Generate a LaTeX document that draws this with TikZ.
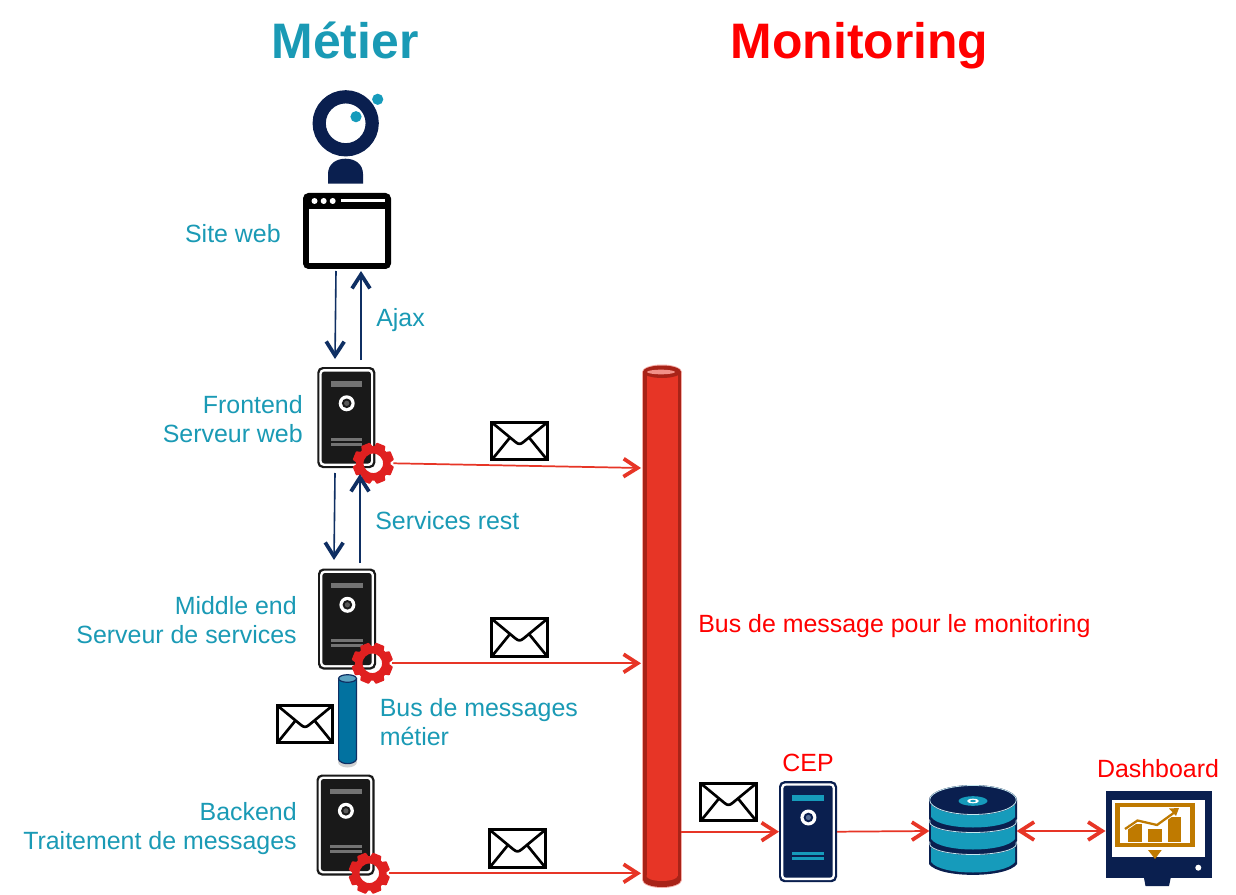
\documentclass[tikz,border=0pt]{standalone}
\usepackage{fontspec}
\setmainfont{Liberation Sans}
\usetikzlibrary{arrows.meta,calc}
\definecolor{teal}{HTML}{169BBB}
\definecolor{navy}{HTML}{0A1F4F}
\definecolor{lab}{HTML}{1A9AB5}
\definecolor{busred}{HTML}{E73526}
\definecolor{busdark}{HTML}{A82318}
\definecolor{gearred}{HTML}{E02020}
\definecolor{gold}{HTML}{BF7A00}
\definecolor{darkblue}{HTML}{0F2F63}
\definecolor{pipe}{HTML}{0272A0}
\tikzset{
  x=0.75pt,y=-0.75pt,
  anchorbox/.style={inner sep=0pt,outer sep=0pt,minimum width=#1},
  title/.style={font=\fontsize{37.4}{44}\selectfont\bfseries},
  lbl/.style={font=\fontsize{18.7}{21.75}\selectfont,text=lab,inner sep=0pt},
  redlbl/.style={font=\fontsize{18.7}{21.75}\selectfont,text=red,inner sep=0pt},
  bigbarb/.tip={Straight Barb[length=10.5pt,width=13.5pt,line width=2.8pt]},
  flowred/.style={draw=busred,line width=1.3pt,-bigbarb},
  flowboth/.style={draw=busred,line width=1.3pt,bigbarb-bigbarb},
  flownavy/.style={draw=darkblue,line width=1.2pt,-bigbarb},
}
\newcommand{\srvicon}[6]{% name,x,y,face,bar,disc
  \node[anchorbox=43.5pt,minimum height=75.75pt] (#1) at (#2,#3) {};
  \begin{scope}[shift={(#2,#3)}]
    \fill[#4,rounded corners=4pt] (-29,-50.5) rectangle (29,50.5);
    \fill[white,rounded corners=3.2pt] (-26.9,-48.4) rectangle (26.9,48.4);
    \fill[#4,rounded corners=2pt] (-24.6,-46) rectangle (24.6,46);
    \fill[#5] (-15.8,-36.5) rectangle (16,-30.8);
    \fill[#5] (-15.8,20) rectangle (16,23.3);
    \fill[#5] (-15.8,25) rectangle (16,28.3);
    \fill[white] (0.4,-14.2) circle[radius=8];
    \fill[#4] (0.4,-14.2) circle[radius=4.8];
    \fill[#6] (0.4,-14.2) circle[radius=2.6];
  \end{scope}
}
\newcommand{\gearicon}[3]{% name,x,y
  \node[circle,inner sep=0pt,outer sep=0pt,minimum size=30pt] (#1) at (#2,#3) {};
  \begin{scope}[shift={(#2,#3)}]
    \draw[gearred,line width=5.6pt] (0,0) circle[radius=13.5];
    \foreach \a in {0,45,...,315}
      \fill[gearred,rotate=\a+22.5,rounded corners=0.5pt] (-6.2,-14) -- (-4.6,-20.5) -- (4.6,-20.5) -- (6.2,-14) -- cycle;
  \end{scope}
}
\newcommand{\mailicon}[3]{% name,x,y centre
  \node[anchorbox=41.5pt,minimum height=28pt,draw=black,line width=2.4pt,fill=white] (#1) at (#2,#3) {};
  \begin{scope}[shift={(#2,#3)}]
    \draw[black,line width=2pt,line join=round] (-27,-18) -- (-4,1) .. controls (-1,3.5) and (1,3.5) .. (4,1) -- (27,-18);
    \draw[black,line width=2pt] (-27,18) -- (-9.5,-3.5);
    \draw[black,line width=2pt] (27,18) -- (9.5,-3.5);
  \end{scope}
}
\begin{document}
\begin{tikzpicture}
\useasboundingbox (0,0) rectangle (1236,895);
\fill[white] (0,0) rectangle (1236,895);

% titles
\node[title,text=lab,inner sep=0pt,anchor=base] (tMetier) at (345,59) {Métier};
\node[title,text=red,inner sep=0pt,anchor=base] (tMonitoring) at (859.5,59) {Monitoring};

% person
\node[circle,inner sep=0pt,minimum size=49.5pt] (person) at (345.7,123.3) {};
\draw[navy,line width=9.9pt] (345.7,123.3) circle[radius=26.5];
\fill[teal] (356,116.7) circle[radius=5.6];
\fill[teal] (377.7,99.3) circle[radius=5.6];
\fill[navy] (328,183.7) -- (328,174) .. controls (328,164) and (336,158.7) .. (345.5,158.7) .. controls (355,158.7) and (363,164) .. (363,174) -- (363,183.7) -- cycle;

% browser
\node[anchorbox=66pt,minimum height=57pt] (browser) at (347,231) {};
\fill[black,rounded corners=4pt] (303,193) rectangle (391,269);
\fill[white] (309,209) rectangle (385,263);
\foreach \cx in {314.5,323.7,332.7} \fill[white] (\cx,201) circle[radius=3];
\fill[white] (341,199.5) rectangle (385,202.5);
\node[lbl,anchor=east] (lSite) at (281,234) {Site web};

% servers
\srvicon{front}{346.3}{417.5}{black!90}{black!55}{black!65}
\srvicon{middle}{347}{619}{black!90}{black!55}{black!65}
\srvicon{back}{345.5}{825}{black!90}{black!55}{black!65}
\srvicon{cep}{808}{831.7}{navy}{teal}{darkblue!70}

\gearicon{gearF}{373.3}{463.3}
\gearicon{gearM}{372.3}{663.3}
\gearicon{gearB}{369.3}{873.3}

\node[lbl,anchor=east,align=right] (lFront) at (303,419.5) {Frontend\\Serveur web};
\node[lbl,anchor=east,align=right] (lMiddle) at (297,620.5) {Middle end\\Serveur de services};
\node[lbl,anchor=east,align=right] (lBack) at (297,828.5) {Backend\\Traitement de messages};
\node[lbl,anchor=west] (lAjax) at (376,320) {Ajax};
\node[lbl,anchor=west] (lRest) at (375,521) {Services rest};
\node[lbl,anchor=west,align=left] (lBus) at (379.5,722.5) {Bus de messages\\métier};

% navy connectors
\coordinate (browserD) at (336,271);
\coordinate (frontIn) at (335,359);
\coordinate (frontOut) at (361,360);
\coordinate (browserI) at (361,271);
\coordinate (frontD) at (335,473);
\coordinate (middleIn) at (334,560);
\coordinate (middleOut) at (360,563);
\coordinate (frontI) at (360,474);
\draw[flownavy] (browserD) -- (frontIn);
\draw[flownavy] (frontOut) -- (browserI);
\draw[flownavy] (frontD) -- (middleIn);
\draw[flownavy] (middleOut) -- (frontI);

% small message bus
\fill[black!18] (347.5,762) ellipse[x radius=9.5,y radius=5.5];
\node[anchorbox=13.8pt,minimum height=67.5pt] (busM) at (347.5,719) {};
\filldraw[fill=pipe,draw=darkblue,line width=0.9pt] (338.6,678.5) -- (338.6,759.5) .. controls (341,765) and (354,765) .. (356.4,759.5) -- (356.4,678.5) -- cycle;
\filldraw[fill=pipe!65!white,draw=darkblue,line width=0.9pt] (347.5,678.5) ellipse[x radius=8.9,y radius=3.8];

% red bus
\node[anchorbox=30pt,minimum height=390pt] (busR) at (661,626.5) {};
\fill[busred!40!white] (642,372) rectangle (682,880);
\fill[busred!40!white] (662,372) ellipse[x radius=20,y radius=7.5];
\fill[busred!40!white] (662,880) ellipse[x radius=20,y radius=8];
\fill[busdark] (643,372) rectangle (681,880);
\fill[busdark] (662,372) ellipse[x radius=19,y radius=6.5];
\fill[busdark] (662,880) ellipse[x radius=19,y radius=7];
\fill[busred] (646.5,372) rectangle (677.5,876);
\fill[busred] (662,876) ellipse[x radius=15.5,y radius=5];
\fill[busdark] (662,372) ellipse[x radius=19,y radius=6];
\fill[busred!55!white] (661,372) ellipse[x radius=14,y radius=2.3];
\node[redlbl,anchor=west] (lBusR) at (698,626) {Bus de message pour le monitoring};

% envelopes
\mailicon{m1}{519.5}{441}
\mailicon{m2}{519.5}{637.5}
\mailicon{m3}{517.5}{848.5}
\mailicon{m4}{728.5}{802}
\mailicon{m5}{305}{724}

% database
\node[anchorbox=65.5pt,minimum height=69pt] (db) at (973,831) {};
\begin{scope}[shift={(973,0)}]
  \foreach \yc/\yb/\ry in {844/873/11,822/850/11,800/828/15}{
    \fill[navy] (-44,\yc) -- (-44,\yb-9) .. controls (-34,\yb+5.5) and (34,\yb+5.5) .. (44,\yb-9) -- (44,\yc) -- cycle;
    \fill[teal] (-42,\yc) -- (-42,\yb-11) .. controls (-32,\yb+3) and (32,\yb+3) .. (42,\yb-11) -- (42,\yc) -- cycle;
    \fill[navy] (0,\yc) ellipse[x radius=44,y radius=\ry];
    \draw[white!75!teal,line width=0.6pt] (0,\yc) ellipse[x radius=43.3,y radius=\ry-0.5];
  }
  \fill[teal] (0,801) ellipse[x radius=14.5,y radius=4.8];
  \fill[white] (0,801) ellipse[x radius=6,y radius=2.3];
  \fill[teal] (0,801) ellipse[x radius=2.8,y radius=1.1];
\end{scope}

% dashboard
\node[anchorbox=79.5pt,minimum height=60pt] (dash) at (1158.5,831) {};
\fill[navy] (1105.7,790.7) rectangle (1211.7,878.3);
\fill[navy] (1144,878) -- (1145.5,886) -- (1169,886) -- (1170.7,878) -- cycle;
\fill[white] (1111.7,800) rectangle (1205,857.3);
\fill[gold] (1115,802.7) rectangle (1195,847.3);
\fill[white] (1120,807) rectangle (1190,842.7);
\fill[gold] (1128,824) rectangle (1141.7,841.7);
\fill[gold] (1148,829.3) rectangle (1161.7,841.7);
\fill[gold] (1167.7,816.7) rectangle (1180.7,841.7);
\draw[white,line width=3pt] (1125,829) -- (1137.5,820.5) -- (1157,825) -- (1175,812);
\draw[gold,line width=1.7pt] (1125,829) -- (1137.5,820.5) -- (1157,825) -- (1175,812);
\fill[gold] (1169,808.5) -- (1179,808) -- (1176,816) -- cycle;
\fill[gold] (1148,850) -- (1161.7,850) -- (1155,859) -- cycle;
\fill[white] (1198.3,867.7) circle[radius=3];
\node[redlbl,anchor=center] (lCep) at (808,762.5) {CEP};
\node[redlbl,anchor=center] (lDash) at (1158,768.5) {Dashboard};

% red connectors
\coordinate (busInF) at (641,468);
\draw[flowred] (gearF.east) -- (busInF);
\draw[flowred] (gearM.east) -- (gearM.east -| busR.west);
\draw[flowred] (gearB.east) -- (gearB.east -| busR.west);
\draw[flowred] (busR.east |- cep.west) -- (cep.west);
\draw[flowred] (cep.east) -- (db.west);
\draw[flowboth] (db.east) -- (db.east -| dash.west);
\end{tikzpicture}
\end{document}
